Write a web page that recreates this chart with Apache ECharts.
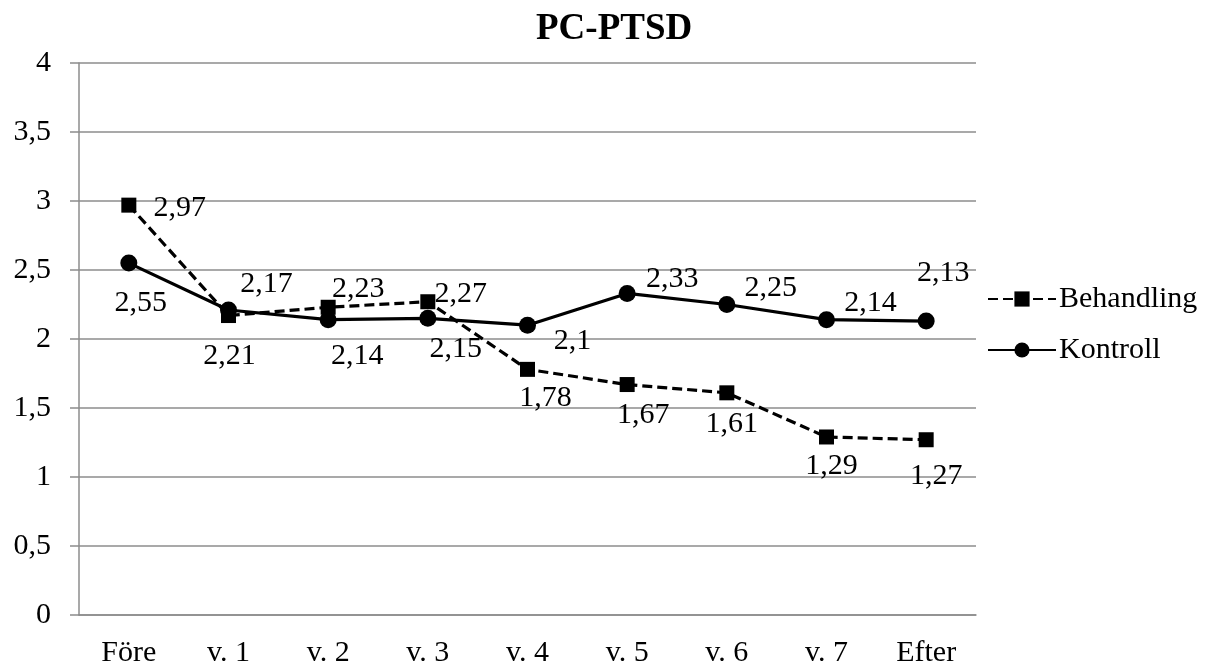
<!DOCTYPE html>
<html>
<head>
<meta charset="utf-8">
<title>PC-PTSD</title>
<script src="https://cdn.jsdelivr.net/npm/echarts@6/dist/echarts.min.js"></script>
<style>
    html, body { margin: 0; padding: 0; background: #fff; }
    #chart { width: 1214px; height: 668px; }
</style>
</head>
<body>
<div id="chart"></div>
<script>
// Data
const categories = ['Före', 'v. 1', 'v. 2', 'v. 3', 'v. 4', 'v. 5', 'v. 6', 'v. 7', 'Efter'];
const behandling = [2.97, 2.17, 2.23, 2.27, 1.78, 1.67, 1.61, 1.29, 1.27];
const kontroll = [2.55, 2.21, 2.14, 2.15, 2.1, 2.33, 2.25, 2.14, 2.13];

// Where each data label sits, relative to its point
const behLabelOffset = [[51, 3], [38, -31], [30, -18], [33, -8], [18, 29], [16, 31], [5, 31], [5, 29], [10, 36]];
const konLabelOffset = [[12, 40], [1, 46], [29, 36], [28, 31], [45, 16], [45, -14], [44, -16], [44, -17], [17, -48]];

const FONT = '"Liberation Serif", "Times New Roman", serif';
const GRAY = '#8c8c8c';

const comma = function (v) {
    return String(v).replace('.', ',');
};

const withLabels = function (values, offsets) {
    return values.map((v, i) => ({
        value: v,
        label: { offset: offsets[i] }
    }));
};

const chart = echarts.init(document.getElementById('chart'));

chart.setOption({
    animation: false,
    textStyle: { fontFamily: FONT, color: '#000' },

    title: {
        text: 'PC-PTSD',
        left: 531,
        top: 6,
        textStyle: {
            fontFamily: FONT,
            fontSize: 37,
            fontWeight: 'bold',
            color: '#000'
        }
    },

    legend: {
        orient: 'vertical',
        left: 982,
        top: 279,
        itemWidth: 68,
        itemHeight: 19,
        itemGap: 21,
        data: ['Behandling', 'Kontroll'],
        textStyle: {
            fontFamily: FONT,
            fontSize: 30,
            lineHeight: 30,
            color: '#000',
            padding: [0, 0, 0, -2]
        }
    },

    grid: {
        left: 79,
        right: 238,
        top: 63,
        bottom: 52
    },

    xAxis: {
        type: 'category',
        data: categories,
        boundaryGap: true,
        axisLine: { lineStyle: { color: GRAY, width: 1.5 } },
        axisTick: { length: 10, lineStyle: { color: GRAY, width: 1.5 } },
        axisLabel: {
            margin: 23,
            fontFamily: FONT,
            fontSize: 30,
            color: '#000'
        }
    },

    yAxis: {
        type: 'value',
        min: 0,
        max: 4,
        interval: 0.5,
        axisLine: { show: true, lineStyle: { color: GRAY, width: 1.5 } },
        axisTick: { show: true, length: 9, lineStyle: { color: GRAY, width: 1.5 } },
        splitLine: { lineStyle: { color: GRAY, width: 1.5 } },
        axisLabel: {
            margin: 28,
            fontFamily: FONT,
            fontSize: 30,
            color: '#000',
            formatter: comma
        }
    },

    series: [{
        name: 'Behandling',
        type: 'line',
        data: withLabels(behandling, behLabelOffset),
        symbol: 'rect',
        symbolSize: 15,
        itemStyle: { color: '#000' },
        lineStyle: { color: '#000', width: 3.2, type: [10, 5] },
        label: {
            show: true,
            position: 'inside',
            align: 'center',
            verticalAlign: 'middle',
            fontFamily: FONT,
            fontSize: 30,
            color: '#000',
            formatter: p => comma(p.value)
        }
    }, {
        name: 'Kontroll',
        type: 'line',
        data: withLabels(kontroll, konLabelOffset),
        symbol: 'circle',
        symbolSize: 17,
        itemStyle: { color: '#000' },
        lineStyle: { color: '#000', width: 3.2 },
        label: {
            show: true,
            position: 'inside',
            align: 'center',
            verticalAlign: 'middle',
            fontFamily: FONT,
            fontSize: 30,
            color: '#000',
            formatter: p => comma(p.value)
        }
    }]
});
</script>
</body>
</html>
